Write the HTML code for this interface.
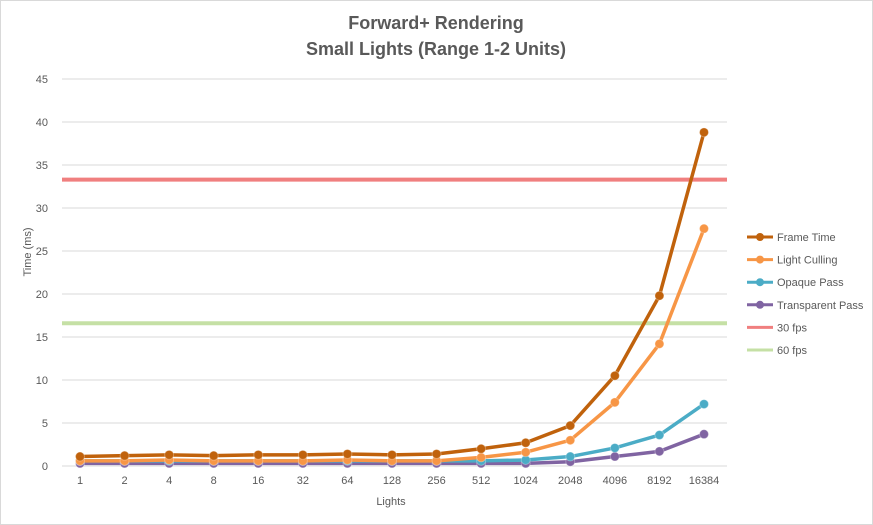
<!DOCTYPE html>
<html><head><meta charset="utf-8"><style>
body{margin:0;background:#fff;font-family:"Liberation Sans",sans-serif}
svg{display:block}
</style></head><body>
<svg id="chart" width="873" height="525" xmlns="http://www.w3.org/2000/svg">
<rect x="0.5" y="0.5" width="872" height="524" fill="#fff" stroke="#d9d9d9"/>
<text x="436" y="29" text-anchor="middle" font-size="18" font-weight="bold" fill="#595959">Forward+ Rendering</text>
<text x="436" y="55" text-anchor="middle" font-size="18" font-weight="bold" fill="#595959">Small Lights (Range 1-2 Units)</text>
<g id="grid"></g><g id="ylab"></g><g id="xlab"></g><g id="series"></g>
<text x="391" y="505" text-anchor="middle" font-size="11" fill="#595959">Lights</text>
<text transform="translate(31,252) rotate(-90)" text-anchor="middle" font-size="11" fill="#595959">Time (ms)</text>
<g id="legend"></g>
</svg>
<script>
const categories=["1","2","4","8","16","32","64","128","256","512","1024","2048","4096","8192","16384"];
const frameTime=[1.1,1.2,1.3,1.2,1.3,1.3,1.4,1.3,1.4,2.0,2.7,4.7,10.5,19.8,38.8];
const lightCulling=[0.6,0.6,0.7,0.6,0.6,0.6,0.7,0.6,0.6,1.0,1.6,3.0,7.4,14.2,27.6];
const opaquePass=[0.6,0.6,0.6,0.6,0.6,0.6,0.6,0.6,0.6,0.6,0.7,1.1,2.1,3.6,7.2];
const transparentPass=[0.3,0.3,0.3,0.3,0.3,0.3,0.3,0.3,0.3,0.3,0.3,0.5,1.1,1.7,3.7];
const fps30=33.3;
const fps60=16.6;
const yTicks=[0,5,10,15,20,25,30,35,40,45];
const NS="http://www.w3.org/2000/svg";
const X0=62,X1=727,Y0=466,Y1=79;
function xs(i){return 80+i*(704-80)/(categories.length-1);}
function ys(v){return Y0-(v/45)*(Y0-Y1);}
function mk(t,a,p){const e=document.createElementNS(NS,t);for(const k in a)e.setAttribute(k,a[k]);document.getElementById(p).appendChild(e);return e;}
yTicks.forEach(v=>{
 const l=mk('line',{x1:X0,x2:X1,y1:ys(v),y2:ys(v),stroke:'#d9d9d9','stroke-width':1},'grid');
 
 
 const t=mk('text',{x:48,y:ys(v)+4,'text-anchor':'end','font-size':11,fill:'#595959'},'ylab');t.textContent=v;
 
 
});
categories.forEach((c,i)=>{
 const t=mk('text',{x:xs(i),y:484,'text-anchor':'middle','font-size':11,fill:'#595959'},'xlab');t.textContent=c;
 
 
});
function hline(v,col,name){
 const l=mk('line',{x1:X0,x2:X1,y1:ys(v),y2:ys(v),stroke:col,'stroke-width':4},'series');
 
 
}
hline(fps30,'#f07f7f','line-30fps');
hline(fps60,'#c5e0a5','line-60fps');
const S=[[transparentPass,'#8064a2','transparent-pass'],[opaquePass,'#4bacc6','opaque-pass'],[lightCulling,'#f79646','light-culling'],[frameTime,'#c0620c','frame-time']];
S.forEach(([d,col,n])=>{
 const p=mk('polyline',{points:d.map((v,i)=>xs(i)+','+ys(v)).join(' '),fill:'none',stroke:col,'stroke-width':3.5,'stroke-linejoin':'round'},'series');
 
 
 d.forEach((v,i)=>{
  const c=mk('circle',{cx:xs(i),cy:ys(v),r:4.5,fill:col,stroke:'#fff','stroke-opacity':0.3,'stroke-width':1},'series');
  
  
 });
});
const L=[['Frame Time','#c0620c',1],['Light Culling','#f79646',1],['Opaque Pass','#4bacc6',1],['Transparent Pass','#8064a2',1],['30 fps','#f07f7f',0],['60 fps','#c5e0a5',0]];
L.forEach(([n,col,m],i)=>{
 const y=237+i*22.6;
 const g=mk('g',{},'legend');
 
 
 const l=document.createElementNS(NS,'line');
 l.setAttribute('x1',747);l.setAttribute('x2',773);l.setAttribute('y1',y);l.setAttribute('y2',y);l.setAttribute('stroke',col);l.setAttribute('stroke-width',3);g.appendChild(l);
 if(m){const c=document.createElementNS(NS,'circle');c.setAttribute('cx',760);c.setAttribute('cy',y);c.setAttribute('r',4);c.setAttribute('fill',col);g.appendChild(c);}
 const t=document.createElementNS(NS,'text');t.setAttribute('x',777);t.setAttribute('y',y+4);t.setAttribute('font-size',11);t.setAttribute('fill','#595959');t.textContent=n;g.appendChild(t);
});
</script>
</body></html>
